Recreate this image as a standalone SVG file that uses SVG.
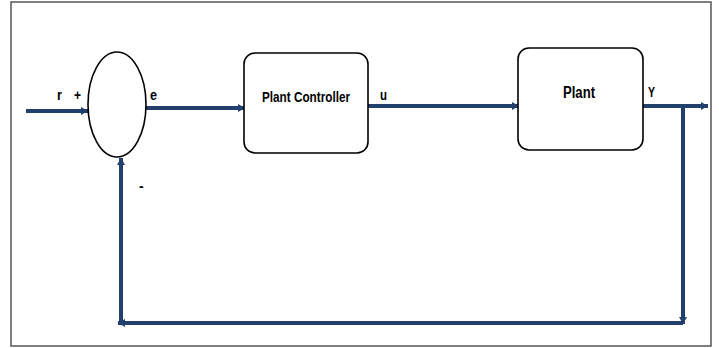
<svg xmlns="http://www.w3.org/2000/svg" width="719" height="348" viewBox="0 0 719 348">
<style>
.frame{fill:none;stroke:#555;stroke-width:1.5}
.node{fill:#fff;stroke:#000;stroke-width:1.6}
.wire{fill:none;stroke:#22406E;stroke-width:4}
.lbl{font-family:"Liberation Sans",Arial,sans-serif;font-weight:bold;fill:#000}
</style>
<defs>
<marker id="ah" markerUnits="userSpaceOnUse" markerWidth="8" markerHeight="10" refX="7" refY="5" orient="auto">
<path d="M0,1 L7,5 L0,9 Z" fill="#22406E"/>
</marker>
</defs>
<rect class="frame" x="11" y="2" width="700" height="344"/>
<g id="connectors">
<line class="wire" x1="26" y1="111" x2="88" y2="111" marker-end="url(#ah)"/>
<line class="wire" x1="146" y1="108" x2="245" y2="108" marker-end="url(#ah)"/>
<line class="wire" x1="368" y1="106" x2="519" y2="106" marker-end="url(#ah)"/>
<line class="wire" x1="643" y1="106" x2="708" y2="106" marker-end="url(#ah)"/>
<line class="wire" x1="683" y1="106" x2="683" y2="324" marker-end="url(#ah)"/>
<line class="wire" x1="683" y1="323" x2="118" y2="323" marker-end="url(#ah)"/>
<line class="wire" x1="121" y1="323" x2="121" y2="158" marker-end="url(#ah)"/>
</g>
<g id="sum">
<ellipse class="node" cx="117" cy="104.5" rx="29" ry="52.5"/>
<text class="lbl" x="57" y="100" font-size="14" textLength="5" lengthAdjust="spacingAndGlyphs">r</text>
<text class="lbl" x="74" y="100" font-size="14" textLength="7" lengthAdjust="spacingAndGlyphs">+</text>
<text class="lbl" x="150" y="100" font-size="14" textLength="7" lengthAdjust="spacingAndGlyphs">e</text>
<text class="lbl" x="139" y="191" font-size="14">-</text>
</g>
<g id="controller">
<rect class="node" x="244" y="53" width="124" height="100" rx="11"/>
<text class="lbl" x="306" y="102" font-size="15" text-anchor="middle" textLength="88" lengthAdjust="spacingAndGlyphs">Plant Controller</text>
<text class="lbl" x="380" y="100" font-size="14" textLength="7" lengthAdjust="spacingAndGlyphs">u</text>
</g>
<g id="plant">
<rect class="node" x="518" y="48" width="125" height="102" rx="11"/>
<text class="lbl" x="579" y="98" font-size="16" text-anchor="middle" textLength="32" lengthAdjust="spacingAndGlyphs">Plant</text>
<text class="lbl" x="648" y="97" font-size="14" textLength="7" lengthAdjust="spacingAndGlyphs">Y</text>
</g>
</svg>
